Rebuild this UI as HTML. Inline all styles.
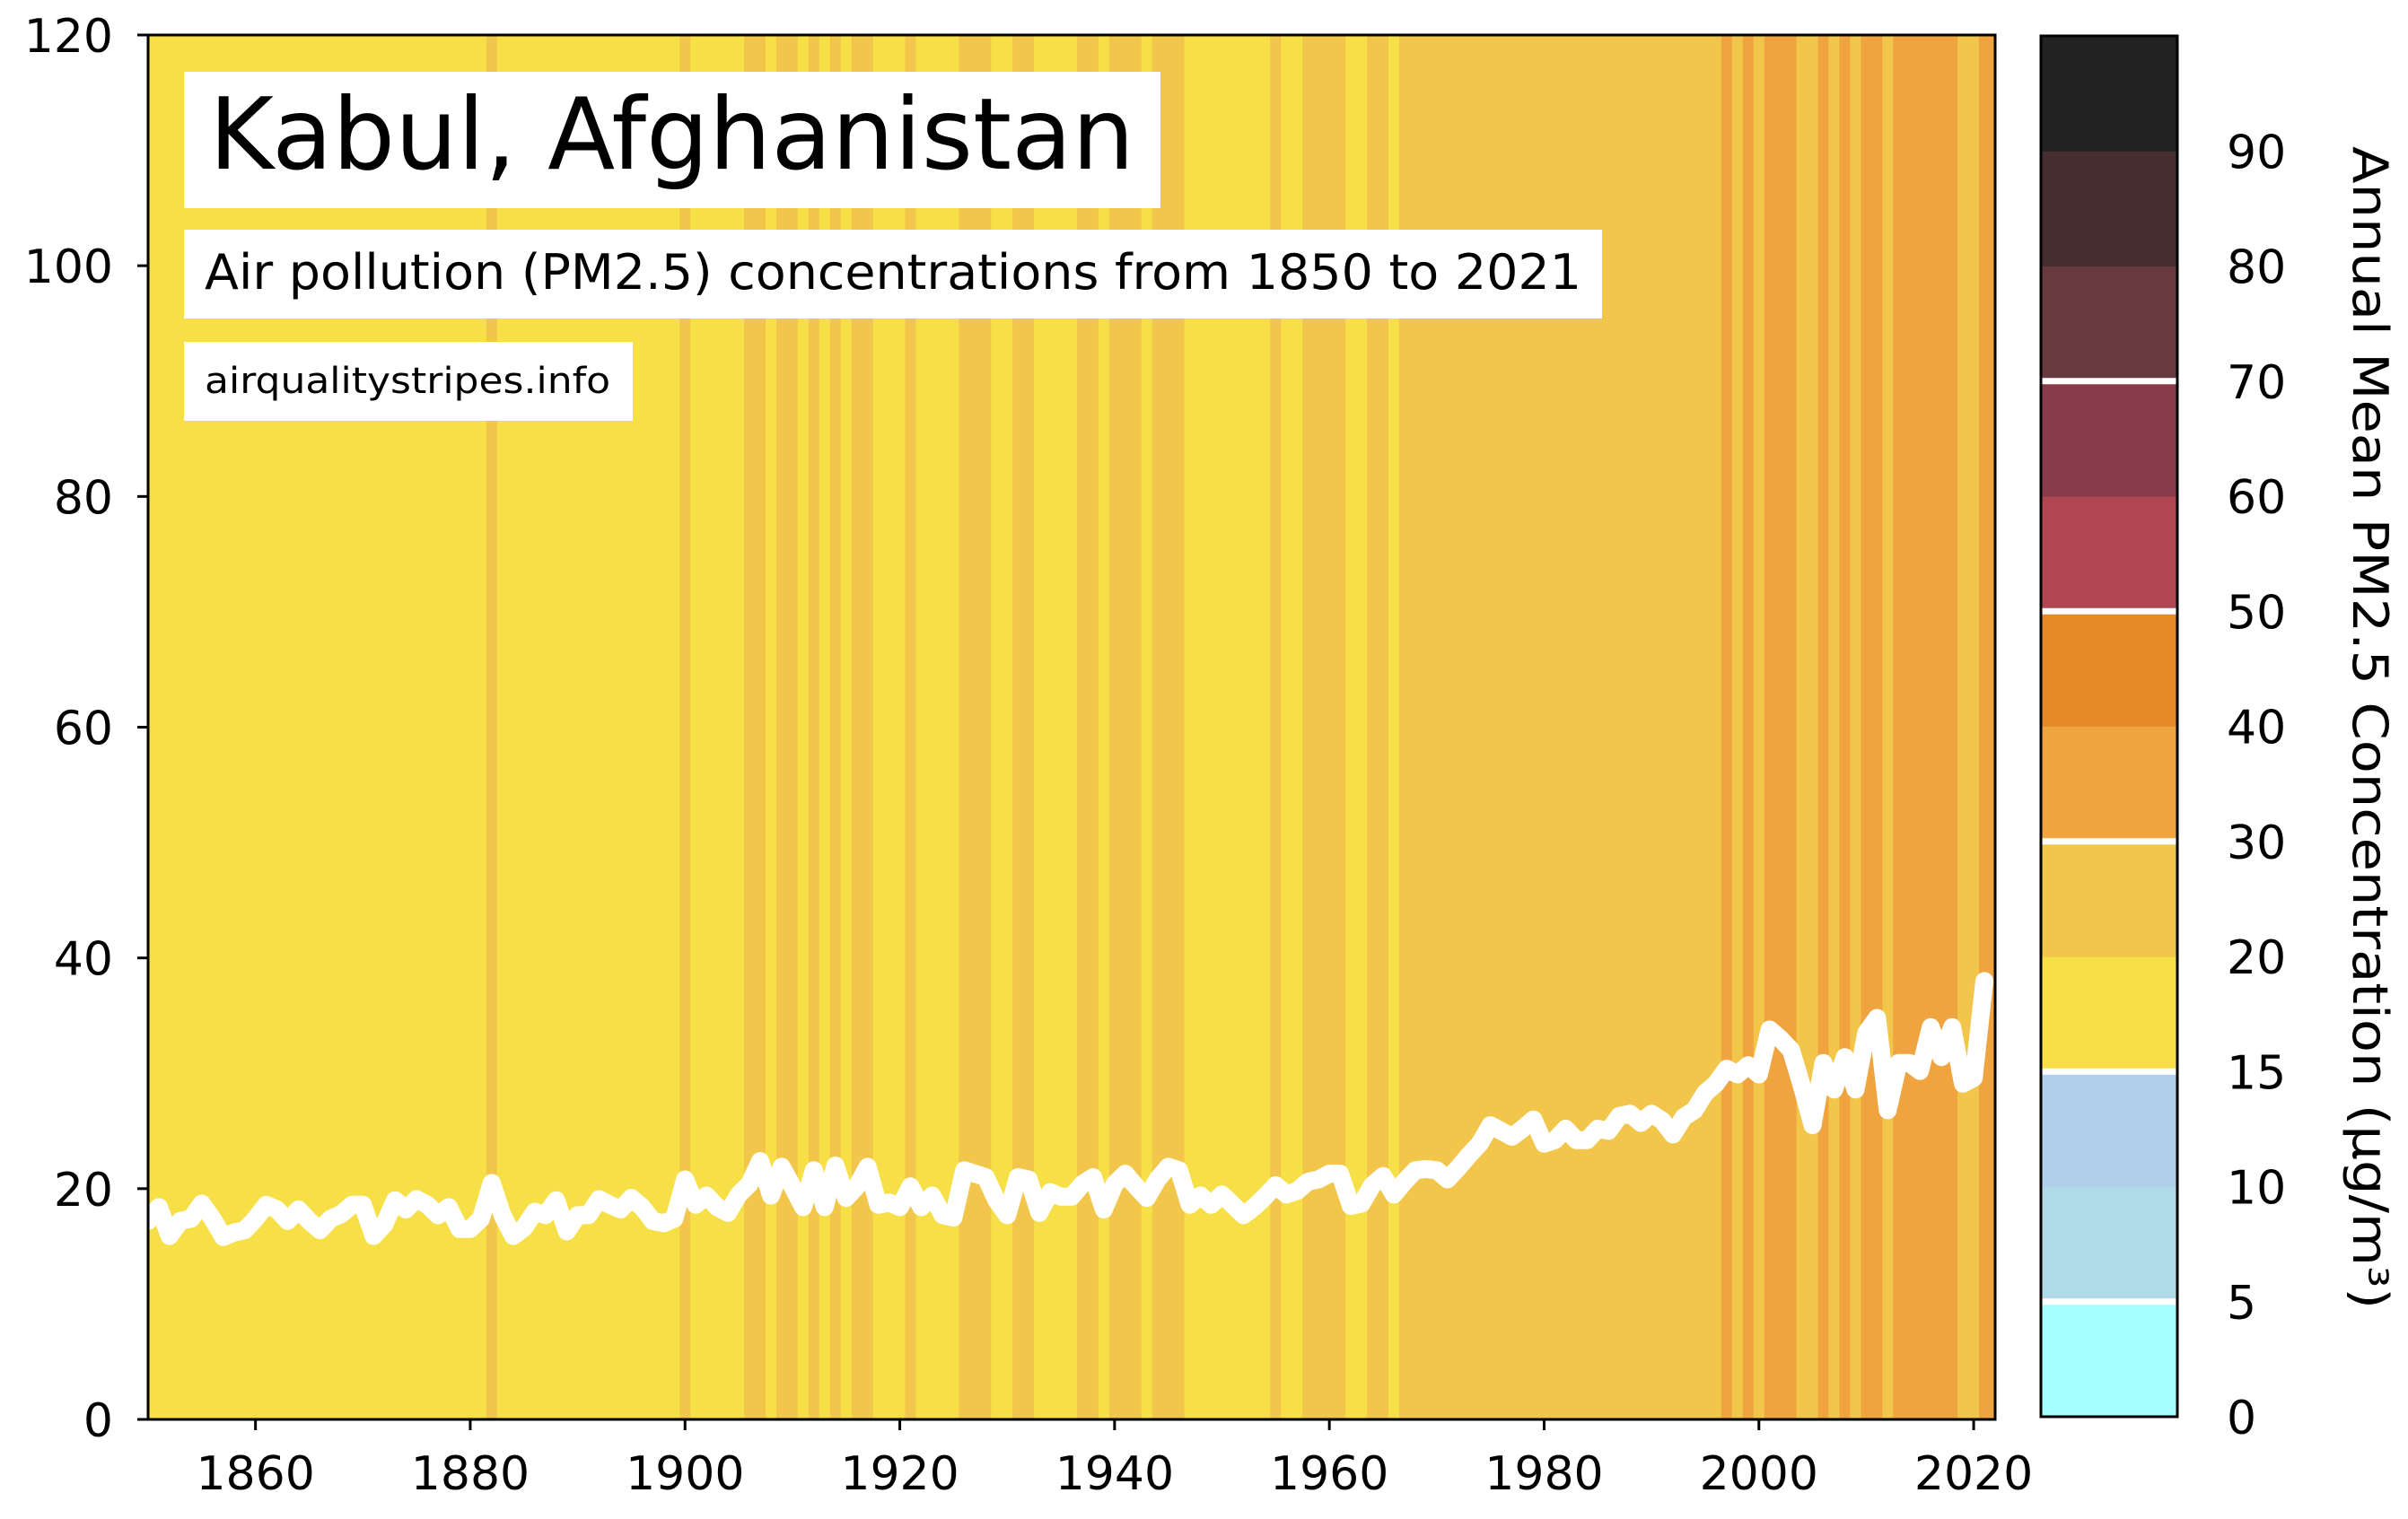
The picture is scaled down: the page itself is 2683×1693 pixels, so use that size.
<!DOCTYPE html>
<html><head><meta charset="utf-8">
<style>
html,body{margin:0;padding:0;background:#fff;}
svg{display:block;font-family:"DejaVu Sans","Liberation Sans",sans-serif;}
</style></head>
<body>
<svg id="chart" width="2683" height="1693" viewBox="0 0 2683 1693" xmlns="http://www.w3.org/2000/svg">
<g id="stripes"></g>
<g id="line-layer"></g>
<rect x="165" y="39" width="2058" height="1543" fill="none" stroke="#000" stroke-width="3"/>
<g id="axes"></g>
<g>
<rect x="205" y="80" width="1088" height="152" fill="#fff"/>
<text x="233" y="188" font-size="111" textLength="1031" lengthAdjust="spacingAndGlyphs">Kabul, Afghanistan</text>
</g>
<g>
<rect x="205" y="256" width="1580" height="99" fill="#fff"/>
<text x="228" y="322" font-size="54" textLength="1534" lengthAdjust="spacingAndGlyphs">Air pollution (PM2.5) concentrations from 1850 to 2021</text>
</g>
<g>
<rect x="205" y="381" width="500" height="88" fill="#fff"/>
<text x="228" y="438" font-size="40" textLength="452" lengthAdjust="spacingAndGlyphs">airqualitystripes.info</text>
</g>
<g id="colorbar"></g>
<text transform="translate(2622,811) rotate(90)" text-anchor="middle" font-size="54" textLength="1296" lengthAdjust="spacingAndGlyphs">Annual Mean PM2.5 Concentration (µg/m³)</text>
</svg>
<script>
const years = [];
for (let y = 1850; y <= 2021; y++) years.push(y);
const pm25 = [
17.2,18.4,15.9,17.2,17.4,18.7,17.4,15.8,16.2,16.4,
17.4,18.6,18.2,17.2,18.2,17.2,16.4,17.4,17.8,18.6,
18.6,15.9,16.9,19.0,18.2,19.1,18.6,17.7,18.4,16.5,
16.5,17.4,20.5,17.7,15.9,16.6,18.0,17.7,19.0,16.3,
17.7,17.7,19.1,18.6,18.2,19.2,18.4,17.2,17.0,17.4,
20.8,18.6,19.4,18.4,17.9,19.5,20.4,22.4,19.4,21.9,
20.2,18.4,21.6,18.4,22.0,19.2,20.2,21.9,18.6,18.8,
18.4,20.2,18.4,19.4,17.7,17.5,21.6,21.3,21.0,19.0,
17.7,21.0,20.8,17.9,19.7,19.3,19.3,20.4,21.0,18.2,
20.4,21.3,20.2,19.2,20.8,21.9,21.6,18.6,19.4,18.6,
19.5,18.6,17.7,18.4,19.3,20.3,19.5,19.8,20.6,20.8,
21.3,21.3,18.5,18.7,20.3,21.1,19.5,20.6,21.6,21.7,
21.6,20.8,21.8,22.9,23.9,25.5,25.0,24.5,25.2,26.0,
23.9,24.2,25.2,24.2,24.2,25.2,25.0,26.3,26.5,25.7,
26.5,25.9,24.7,26.2,26.8,28.3,29.1,30.4,29.9,30.7,
29.9,33.8,33.0,32.0,28.9,25.5,30.9,28.6,31.4,28.6,
33.5,34.8,26.8,30.9,30.9,30.2,34.0,31.4,34.0,29.1,
29.6,38.0
];
const yTicks = [0,20,40,60,80,100,120];
const xTicks = [1860,1880,1900,1920,1940,1960,1980,2000,2020];
const cbBounds = [0,5,10,15,20,30,40,50,60,70,80,90,100];
const cbLabels = ["0","5","10","15","20","30","40","50","60","70","80","90"];
const cbColors = ["#a5feff","#b0dae7","#b1cfec","#f7e047","#f1c64b","#efa43f","#e68a27","#b04652","#883b48","#673a3d","#452d30","#222222"];
const cbWhiteLines = [5,15,30,50,70];

const NS = "http://www.w3.org/2000/svg";
const L = 165, R = 2223, T = 39, B = 1582;
const X0 = 1850, X1 = 2022;
const xs = v => L + (v - X0) * (R - L) / (X1 - X0);
const ys = v => B - v * (B - T) / 120;
const yearW = (R - L) / (X1 - X0);
function mk(tag, attrs, parent) {
  const e = document.createElementNS(NS, tag);
  for (const k in attrs) e.setAttribute(k, attrs[k]);
  parent.appendChild(e);
  return e;
}
function colorFor(v) {
  for (let i = cbBounds.length - 2; i >= 0; i--) if (v >= cbBounds[i]) return cbColors[i];
  return cbColors[0];
}
const sg = document.getElementById("stripes");
years.forEach((yr, i) => {
  const xa = Math.max(L, xs(yr) - yearW / 2);
  let xb = Math.min(R, xs(yr) + yearW / 2 + 0.6);
  if (i === years.length - 1) xb = R;
  const r = mk("rect", {x: xa.toFixed(2), y: T, width: (xb - xa).toFixed(2), height: B - T, fill: colorFor(pm25[i])}, sg);
  
  
});
const lg = document.getElementById("line-layer");
const pts = years.map((yr, i) => xs(yr).toFixed(1) + "," + ys(pm25[i]).toFixed(1)).join(" ");
const clip = mk("clipPath", {id: "plotclip"}, lg);
mk("rect", {x: L, y: T, width: R - L, height: B - T}, clip);
const pl = mk("polyline", {points: pts, fill: "none", stroke: "#fff", "stroke-width": 20, "stroke-linejoin": "round", "stroke-linecap": "round", "clip-path": "url(#plotclip)"}, lg);



const ax = document.getElementById("axes");
yTicks.forEach(v => {
  const y = ys(v);
  const t = mk("line", {x1: L - 12, x2: L, y1: y, y2: y, stroke: "#000", "stroke-width": 3}, ax);
  
  
  const lb = mk("text", {x: 126, y: y + 19, "text-anchor": "end", "font-size": 52}, ax);
  lb.textContent = v;
  
  
});
xTicks.forEach(v => {
  const x = xs(v);
  const t = mk("line", {x1: x, x2: x, y1: B, y2: B + 12, stroke: "#000", "stroke-width": 3}, ax);
  
  
  const lb = mk("text", {x: x, y: 1660, "text-anchor": "middle", "font-size": 52}, ax);
  lb.textContent = v;
  
  
});

const cb = document.getElementById("colorbar");
const CL = 2274, CR = 2426, CT = 40, CB = 1579;
const segH = (CB - CT) / cbColors.length;
const cbY = v => CB - cbBounds.indexOf(v) * segH;
cbColors.forEach((c, i) => {
  const r = mk("rect", {x: CL, y: (CB - (i + 1) * segH).toFixed(2), width: CR - CL, height: (segH + 0.5).toFixed(2), fill: c}, cb);
  
  
});
cbWhiteLines.forEach(v => {
  const y = cbY(v);
  const l = mk("line", {x1: CL, x2: CR, y1: y, y2: y, stroke: "#fff", "stroke-width": 7}, cb);
  
  
});
const fr = mk("rect", {x: CL, y: CT, width: CR - CL, height: CB - CT, fill: "none", stroke: "#000", "stroke-width": 3}, cb);


cbLabels.forEach((s, i) => {
  const lb = mk("text", {x: 2481, y: (CB - i * segH + 19).toFixed(1), "font-size": 52}, cb);
  lb.textContent = s;
  
  
});
</script>
</body></html>
